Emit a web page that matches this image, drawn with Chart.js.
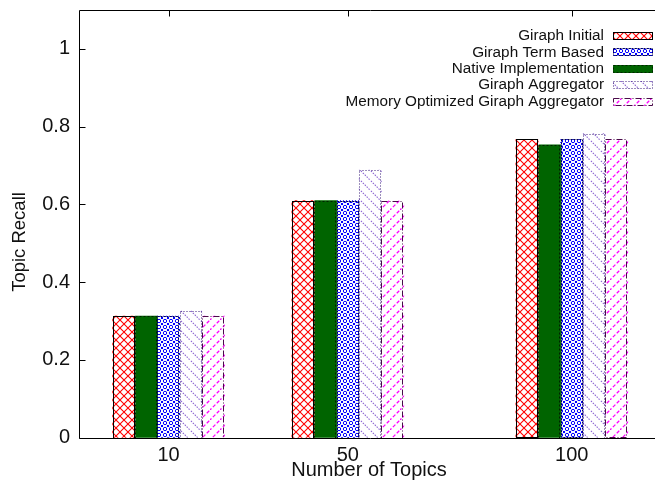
<!DOCTYPE html>
<html>
<head>
<meta charset="utf-8">
<script src="https://cdn.jsdelivr.net/npm/chart.js@4.4.1/dist/chart.umd.min.js"></script>
<style>
  html, body { margin: 0; padding: 0; background: #fff; overflow: hidden; }
  #wrap { width: 655px; height: 482px; overflow: hidden; }
</style>
</head>
<body>
<div id="wrap"><canvas id="recallChart" width="680" height="482"></canvas></div>
<script>
// Topic recall per number of topics
var topicCounts = [10, 50, 100];
var yTickValues = [0, 0.2, 0.4, 0.6, 0.8, 1];

var giraphInitial = [0.313, 0.610, 0.767];
var nativeImpl = [0.313, 0.610, 0.753];
var giraphTermBased = [0.313, 0.610, 0.767];
var giraphAggregator = [0.327, 0.688, 0.782];
var memoryOptimized = [0.313, 0.610, 0.767];

// bars go left to right in this order, the key lists them in another one
var seriesNames = ['Giraph Initial', 'Native Implementation', 'Giraph Term Based',
    'Giraph Aggregator', 'Memory Optimized Giraph Aggregator'];
var seriesValues = [giraphInitial, nativeImpl, giraphTermBased, giraphAggregator, memoryOptimized];
var keyOrder = ['Giraph Initial', 'Giraph Term Based', 'Native Implementation',
    'Giraph Aggregator', 'Memory Optimized Giraph Aggregator'];

var xTitle = 'Number of Topics';
var yTitle = 'Topic Recall';

var barUnits = 5;          // one bar spans 5 units of the x axis
var fontFamily = '"Liberation Sans", Arial, Helvetica, sans-serif';
var inkColor = '#111';

var canvas = document.getElementById('recallChart');
var ctx = canvas.getContext('2d');

// small repeating tiles for the gnuplot style fill patterns
function makePattern(size, draw) {
    var c = document.createElement('canvas');
    c.width = size;
    c.height = size;
    var g = c.getContext('2d');
    g.fillStyle = '#fff';
    g.fillRect(0, 0, size, size);
    draw(g, size);
    return ctx.createPattern(c, 'repeat');
}

var redCross = makePattern(8, function (g, s) {
    g.strokeStyle = '#ff0000';
    g.lineWidth = 1.1;
    g.beginPath();
    g.moveTo(0, 0); g.lineTo(s, s);
    g.moveTo(0, s); g.lineTo(s, 0);
    g.stroke();
});

var blueRings = makePattern(6, function (g, s) {
    g.strokeStyle = '#0000ff';
    g.lineWidth = 1;
    g.beginPath();
    g.arc(3, 3, 1.7, 0, Math.PI * 2);
    g.stroke();
    g.fillStyle = '#0000ff';
    g.fillRect(0, 0, 1, 1);
    g.fillRect(5, 5, 1, 1);
    g.fillRect(5, 0, 1, 1);
    g.fillRect(0, 5, 1, 1);
});

var purpleDots = makePattern(10, function (g, s) {
    g.strokeStyle = '#8a63d2';
    g.lineWidth = 1.1;
    g.setLineDash([1.5, 1.2]);
    g.beginPath();
    g.moveTo(-1, -1); g.lineTo(s + 1, s + 1);
    g.stroke();
});

var magentaDash = makePattern(10, function (g, s) {
    g.strokeStyle = '#ff00ff';
    g.lineWidth = 1.3;
    g.setLineDash([3.5, 2]);
    g.beginPath();
    g.moveTo(-1, s + 1); g.lineTo(s + 1, -1);
    g.stroke();
});

var barStyles = [
    { fill: redCross, edge: '#000000', dash: [] },
    { fill: '#006400', edge: '#002200', dash: [2, 2] },
    { fill: blueRings, edge: '#000050', dash: [2, 1] },
    { fill: purpleDots, edge: '#3a1f7a', dash: [1, 2] },
    { fill: magentaDash, edge: '#4a0a4a', dash: [6, 2, 1, 2] }
];

var datasets = seriesNames.map(function (name, s) {
    return {
        label: name,
        data: topicCounts.map(function (t, i) {
            return { x: t + (s - 2) * barUnits, y: seriesValues[s][i] };
        }),
        backgroundColor: barStyles[s].fill,
        borderWidth: 0
    };
});

function outlineRect(x, y, w, h, style) {
    ctx.save();
    ctx.strokeStyle = style.edge;
    ctx.lineWidth = 1;
    ctx.setLineDash(style.dash);
    ctx.strokeRect(Math.round(x) + 0.5, Math.round(y) + 0.5, Math.round(w) - 1, Math.round(h) - 1);
    ctx.restore();
}

// axis frame, inward ticks, bar outlines, axis titles and the key
var framePlugin = {
    id: 'framePlugin',
    beforeDatasetsDraw: function (chart) {
        var a = chart.chartArea, xs = chart.scales.x;
        ctx.save();
        ctx.strokeStyle = '#000';
        ctx.lineWidth = 1;
        ctx.beginPath();
        topicCounts.forEach(function (t) {
            var px = Math.round(xs.getPixelForValue(t)) + 0.5;
            ctx.moveTo(px, a.bottom); ctx.lineTo(px, a.bottom - 6);
        });
        ctx.stroke();
        ctx.restore();
    },
    afterDatasetsDraw: function (chart) {
        var a = chart.chartArea, xs = chart.scales.x, ys = chart.scales.y;
        chart.data.datasets.forEach(function (ds, s) {
            chart.getDatasetMeta(s).data.forEach(function (bar) {
                var p = bar.getProps(['x', 'y', 'base', 'width'], true);
                outlineRect(p.x - p.width / 2, p.y, p.width, p.base - p.y + 1, barStyles[s]);
            });
        });

        var left = Math.round(a.left) + 0.5, top = Math.round(a.top) + 0.5;
        var bottom = Math.round(a.bottom) + 0.5, right = Math.round(a.right) + 0.5;
        ctx.save();
        ctx.strokeStyle = '#000';
        ctx.lineWidth = 1;
        ctx.beginPath();
        ctx.moveTo(left, top); ctx.lineTo(right, top); ctx.lineTo(right, bottom);
        ctx.lineTo(left, bottom); ctx.closePath();
        yTickValues.forEach(function (v) {
            var py = Math.round(ys.getPixelForValue(v)) + 0.5;
            ctx.moveTo(left, py); ctx.lineTo(left + 6, py);
            ctx.moveTo(right, py); ctx.lineTo(right - 6, py);
        });
        topicCounts.forEach(function (t) {
            var px = Math.round(xs.getPixelForValue(t)) + 0.5;
            ctx.moveTo(px, top); ctx.lineTo(px, top + 6);
        });
        ctx.stroke();

        // axis titles
        ctx.fillStyle = inkColor;
        ctx.textAlign = 'center';
        ctx.textBaseline = 'middle';
        ctx.font = '20px ' + fontFamily;
        ctx.fillText(xTitle, 369, 470);
        ctx.save();
        ctx.translate(20, 242);
        ctx.rotate(-Math.PI / 2);
        ctx.font = '18.5px ' + fontFamily;
        ctx.fillText(yTitle, 0, 0);
        ctx.restore();

        // key, top right, text to the left of each swatch
        ctx.font = '15.3px ' + fontFamily;
        ctx.textAlign = 'right';
        keyOrder.forEach(function (name, k) {
            var s = seriesNames.indexOf(name);
            var rowY = 36 + k * 16.4;
            ctx.fillStyle = inkColor;
            ctx.fillText(name, 604, rowY);
            ctx.fillStyle = barStyles[s].fill;
            ctx.fillRect(613, Math.round(rowY) - 4, 40, 8);
            outlineRect(613, Math.round(rowY) - 4, 40, 8, barStyles[s]);
        });
        ctx.restore();
    }
};

var recallChart = new Chart(canvas, {
    type: 'bar',
    data: { datasets: datasets },
    plugins: [framePlugin],
    options: {
        responsive: false,
        animation: false,
        devicePixelRatio: 1,
        layout: { padding: { top: 10, right: 18.6, left: 0, bottom: 0 } },
        datasets: {
            bar: { grouped: false, barPercentage: 1, categoryPercentage: 1 }
        },
        plugins: {
            legend: { display: false },
            tooltip: { enabled: false }
        },
        scales: {
            x: {
                type: 'linear',
                min: -10,
                max: 120,
                offset: false,
                grid: { display: false, drawTicks: false },
                border: { display: false },
                afterBuildTicks: function (scale) {
                    scale.ticks = topicCounts.map(function (v) { return { value: v }; });
                },
                afterFit: function (scale) {
                    scale.height = 44.3;
                    scale.paddingLeft = 0;
                    scale.paddingRight = 0;
                },
                ticks: {
                    padding: 6,
                    maxRotation: 0,
                    color: inkColor,
                    font: { family: fontFamily, size: 20 },
                    callback: function (v) { return String(v); }
                }
            },
            y: {
                min: 0,
                max: 1.1,
                grid: { display: false, drawTicks: false },
                border: { display: false },
                afterBuildTicks: function (scale) {
                    scale.ticks = yTickValues.map(function (v) { return { value: v }; });
                },
                afterFit: function (scale) {
                    scale.width = 79;
                    scale.paddingTop = 0;
                    scale.paddingBottom = 0;
                },
                ticks: {
                    padding: 9,
                    color: inkColor,
                    font: { family: fontFamily, size: 20 },
                    callback: function (v) { return String(v); }
                }
            }
        }
    }
});
</script>
</body>
</html>
